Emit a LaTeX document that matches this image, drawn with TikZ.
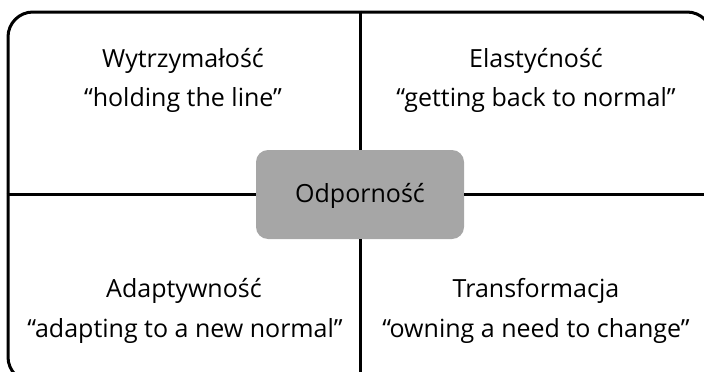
\documentclass[tikz,border=0pt]{standalone}
\usepackage{fontspec}
\setmainfont{Open Sans}
\definecolor{boxgray}{HTML}{A6A6A6}
\tikzset{
  frame/.style={draw=black, line width=3pt, rounded corners=25pt, minimum width=704pt, minimum height=370pt, inner sep=0pt},
  core/.style={fill=boxgray, rounded corners=12pt, minimum width=208pt, minimum height=89pt, inner sep=0pt},
  divider/.style={line width=3pt},
  lbl/.style={anchor=base, inner sep=0pt, font=\fontsize{25}{30}\selectfont}
}
\begin{document}
\begin{tikzpicture}[x=1pt,y=-1pt]
\useasboundingbox (0,0) rectangle (704,372);
\clip (0,0) rectangle (704,372);
\node[frame] (F) at (360,197) {};
\node[core] (C) at (360,194.5) {};
\node[lbl] (Ct) at (360,202) {Odporność};
\draw[divider] (F.north) -- (C.north);
\draw[divider] (C.south) -- (F.south);
\draw[divider] (F.west |- C.west) -- (C.west);
\draw[divider] (C.east) -- (F.east |- C.east);
\node[lbl] (a1) at (183,67) {Wytrzymałość};
\node[lbl] (a2) at (183,106) {“holding the line”};
\node[lbl] (b1) at (536,67) {Elastyćność};
\node[lbl] (b2) at (536,106) {“getting back to normal”};
\node[lbl] (c1) at (184,297) {Adaptywność};
\node[lbl] (c2) at (185,337) {“adapting to a new normal”};
\node[lbl] (d1) at (536,297) {Transformacja};
\node[lbl] (d2) at (536,337) {“owning a need to change”};
\end{tikzpicture}
\end{document}
